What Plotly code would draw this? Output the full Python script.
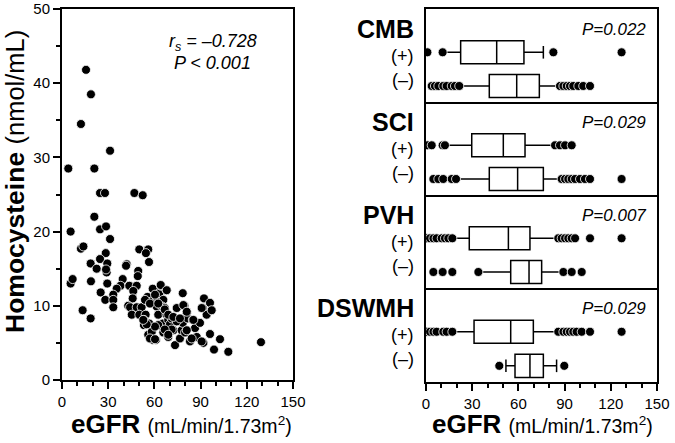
import plotly.graph_objects as go

# ---------------- data ----------------
scatter_egfr = [15.6, 18.8, 12.3, 31.2, 4.1, 21, 24.7, 27.9, 47, 52.4, 21, 5.6, 24.7, 28.6, 31.2,
                12.3, 13.9, 50.2, 56, 54.5, 56.5, 28.4, 18.6, 24.7, 29.4, 22.5, 42, 41.6, 49.5, 49.2,
                29, 28.6, 5.6, 6.9, 18.8, 29.4, 39.4, 38, 35.5, 43.7, 48.5, 25.1, 33.3, 46.3, 45.9,
                28.1, 33.3, 33.3, 13.4, 18.6, 43, 44.2, 48.5, 51.7, 45.3, 50.2, 54.3, 55, 55.5, 58.3,
                53.2, 53.2, 56.7, 56, 58.3, 58.9, 61, 58.9, 61.5, 63.2, 64.3, 67.9, 65.8, 61.5, 62.5,
                65.1, 66.7, 67.9, 65.4, 69, 70.1, 62.5, 65.8, 69, 72.3, 71.2, 74.5, 73.4, 76.6, 77.7,
                78.4, 78.4, 79.5, 81, 81.6, 79.9, 84.9, 86.4, 83.1, 87.5, 89.6, 92.2, 91.4, 91.8, 93.9,
                96.1, 97.2, 96.1, 98.7, 102.6, 108, 129.2, 60.4, 53.9, 57.1, 62.5, 66.7, 69, 78.8, 90.7,
                81, 85.3, 74.5, 72.3, 76.6, 71.2, 66.7, 60.4, 55, 57.1, 60.4, 69, 81, 84.2, 90.7, 52.8,
                64.1, 68]
scatter_hcy = [41.8, 38.5, 34.5, 30.9, 28.5, 28.5, 25.2, 25.2, 25.2, 24.9, 22.0, 20.0, 20.3, 20.7, 19.0,
               17.7, 18.0, 17.6, 17.6, 17.1, 15.9, 17.1, 15.7, 16.3, 15.7, 15.0, 15.6, 15.4, 14.7, 14.0,
               14.5, 14.9, 13.0, 13.6, 13.3, 13.0, 13.6, 12.7, 12.3, 12.7, 12.7, 11.8, 11.5, 12.0, 11.0,
               10.8, 10.8, 9.8, 9.4, 8.3, 10.0, 9.8, 9.8, 9.8, 8.8, 8.8, 8.8, 10.9, 11.2, 10.6,
               8.1, 7.4, 7.6, 6.1, 6.5, 5.4, 5.4, 12.3, 11.2, 11.7, 12.7, 12.1, 10.8, 9.9, 8.8,
               9.9, 9.7, 8.8, 7.6, 8.1, 7.5, 7.4, 6.4, 5.8, 6.7, 8.3, 9.7, 4.7, 5.6, 6.7,
               7.7, 11.7, 10.0, 9.0, 8.3, 6.4, 8.1, 7.0, 5.2, 5.8, 7.7, 11.0, 9.7, 5.0, 8.8,
               10.4, 9.4, 6.2, 4.1, 5.5, 3.8, 5.1, 11.5, 10.8, 10.3, 10.3, 9.5, 8.8, 10.1, 9.7,
               9.2, 8.1, 7.9, 8.5, 8.3, 6.8, 6.8, 7.2, 7.5, 5.6, 5.5, 6.1, 6.7, 5.6, 5.2, 8.1,
               12.8, 12.1]

groups = ["CMB", "SCI", "PVH", "DSWMH"]
p_values = ["P=0.022", "P=0.029", "P=0.007", "P=0.029"]

# box statistics per group: (+) and (-)
pos_q1 = [22.5, 29.7, 28.1, 31.2]
pos_median = [45.9, 50.2, 53.5, 55.0]
pos_q3 = [63.6, 64.3, 67.5, 69.7]
pos_low = [13.4, 13.0, 17.1, 17.1]
pos_high = [76.2, 82.7, 84.8, 85.3]
pos_outliers = [
    [0.9, 10.8, 82.7, 127.0],
    [0.9, 3.7, 10.8, 12.3, 83.8, 87.0, 90.3, 94.6],
    [0.4, 2.6, 4.8, 6.9, 10.2, 12.3, 14.5, 17.1, 85.9, 88.1, 90.3, 92.4, 94.6, 96.8, 106.5, 127.0],
    [0.4, 2.6, 4.8, 6.9, 11.2, 13.4, 17.1, 85.9, 89.2, 91.4, 93.5, 95.6, 97.8, 101.1, 106.5, 127.0],
]
neg_q1 = [41.1, 41.1, 55.0, 57.8]
neg_median = [58.9, 59.5, 66.9, 67.5]
neg_q3 = [73.6, 76.2, 75.1, 76.2]
neg_low = [21.6, 19.9, 34.0, 51.9]
neg_high = [87.0, 87.0, 88.0, 84.8]
neg_outliers = [
    [3.7, 5.8, 8.0, 11.2, 13.4, 16.7, 18.8, 21.6, 87.0, 89.2, 91.4, 93.5, 95.6, 98.9, 102.1, 106.5],
    [4.8, 8.0, 11.2, 16.7, 19.5, 88.1, 90.3, 92.4, 94.6, 96.8, 100.0, 103.2, 106.5, 127.0],
    [4.8, 10.8, 17.1, 34.0, 89.2, 94.6, 101.1],
    [47.6, 89.8],
]
# whisker caps drawn (group index, sign, x value)
caps = [(0, "+", 76.2), (3, "-", 51.9), (3, "-", 84.8)]

# ---------------- layout constants ----------------
W, H = 675, 443
FONT = "Liberation Sans, Arial, sans-serif"

def px_x(p):
    return p / W

def px_y(p):
    return 1 - p / H

fig = go.Figure()

dot_marker = dict(color="black", size=9, line=dict(color="white", width=0.8))

fig.add_trace(go.Scatter(x=scatter_egfr, y=scatter_hcy, mode="markers", marker=dot_marker,
                         xaxis="x", yaxis="y", showlegend=False))

panel_edges = [9, 102, 195, 288, 382]
Y_POS, Y_NEG = 1, 0
for i, g in enumerate(groups):
    ax = str(i + 2)
    for yv, q1, med, q3, lo, hi, outs in [
        (Y_POS, pos_q1[i], pos_median[i], pos_q3[i], pos_low[i], pos_high[i], pos_outliers[i]),
        (Y_NEG, neg_q1[i], neg_median[i], neg_q3[i], neg_low[i], neg_high[i], neg_outliers[i]),
    ]:
        fig.add_trace(go.Box(orientation="h", y=[yv], q1=[q1], median=[med], q3=[q3],
                             lowerfence=[lo], upperfence=[hi], width=0.68,
                             fillcolor="white", line=dict(color="black", width=1.5),
                             whiskerwidth=0, boxpoints=False, showlegend=False,
                             xaxis="x" + ax, yaxis="y" + ax, hoverinfo="skip"))
        fig.add_trace(go.Scatter(x=outs, y=[yv] * len(outs), mode="markers", marker=dot_marker,
                                 xaxis="x" + ax, yaxis="y" + ax, showlegend=False))
    for (gi, sign, xv) in caps:
        if gi == i:
            fig.add_trace(go.Scatter(x=[xv], y=[Y_POS if sign == "+" else Y_NEG], mode="markers",
                                     marker=dict(symbol="line-ns", size=9,
                                                 line=dict(color="black", width=1.5)),
                                     xaxis="x" + ax, yaxis="y" + ax, showlegend=False))

axis_common = dict(showline=True, linecolor="black", linewidth=2,
                   showgrid=False, zeroline=False, automargin=False,
                   tickfont=dict(family=FONT, size=15, color="black"))
tick_style = dict(ticks="outside", ticklen=7, tickwidth=1.5, tickcolor="black")
minor_style = dict(ticks="outside", ticklen=4, tickwidth=1.5, tickcolor="black")

layout = dict(
    width=W, height=H, margin=dict(l=0, r=0, t=0, b=0, autoexpand=False),
    paper_bgcolor="white", plot_bgcolor="white",
    font=dict(family=FONT, color="black"),
    xaxis=dict(domain=[px_x(62), px_x(293)], range=[0, 150], tickvals=[0, 30, 60, 90, 120, 150],
               minor=dict(dtick=10, tick0=0, **minor_style), anchor="y", mirror=True,
               **tick_style, **axis_common),
    yaxis=dict(domain=[px_y(380), px_y(9)], range=[0, 50], tickvals=[0, 10, 20, 30, 40, 50],
               minor=dict(dtick=5, tick0=0, **minor_style), anchor="x", mirror=True,
               **tick_style, **axis_common),
)

for i in range(4):
    ax = str(i + 2)
    top, bot = panel_edges[i], panel_edges[i + 1]
    xa = dict(domain=[px_x(426), px_x(657)], range=[0, 150], anchor="y" + ax,
              mirror=(i == 0), **axis_common)
    if i == 3:
        xa.update(tickvals=[0, 30, 60, 90, 120, 150], minor=dict(dtick=10, tick0=0, **minor_style),
                  **tick_style)
    else:
        xa.update(showticklabels=False, ticks="")
    layout["xaxis" + ax] = xa
    layout["yaxis" + ax] = dict(domain=[px_y(bot), px_y(top)], range=[-0.475, 2.285],
                                anchor="x" + ax, showticklabels=False, ticks="", mirror=True,
                                **axis_common)

fig.update_layout(**layout)


def note(x, y, text, size, xanchor="center", angle=0):
    return dict(x=px_x(x), y=px_y(y), xref="paper", yref="paper", showarrow=False,
                xanchor=xanchor, yanchor="middle", textangle=angle, text=text,
                font=dict(family=FONT, size=size, color="black"))


title_text = "<b>eGFR</b> <span style='font-size:19.5px'>(mL/min/1.73m<sup>2</sup>)</span>"
ann = [
    note(182, 424, title_text, 26),
    note(542, 424, title_text, 26),
    note(15, 182, "<b>Homocysteine</b> <span style='font-size:25.5px'>(nmol/mL)</span>", 26.5, angle=-90),
    note(213, 42, "<i>r<sub>s</sub> = \u20130.728</i>", 18),
    note(213, 63, "<i>P &lt; 0.001</i>", 18),
]
for i, g in enumerate(groups):
    top = panel_edges[i]
    ann.append(note(416, top + 20, "<b>" + g + "</b>", 25, xanchor="right"))
    ann.append(note(416, top + 47, "(+)", 18, xanchor="right"))
    ann.append(note(416, top + 71, "(\u2013)", 18, xanchor="right"))
    ann.append(note(648, top + 20, "<i>" + p_values[i] + "</i>", 17, xanchor="right"))

fig.update_layout(annotations=ann)
fig.write_html("out.html", config={"displayModeBar": False},
               post_script="document.body.style.margin='0px';document.body.style.padding='0px';")
